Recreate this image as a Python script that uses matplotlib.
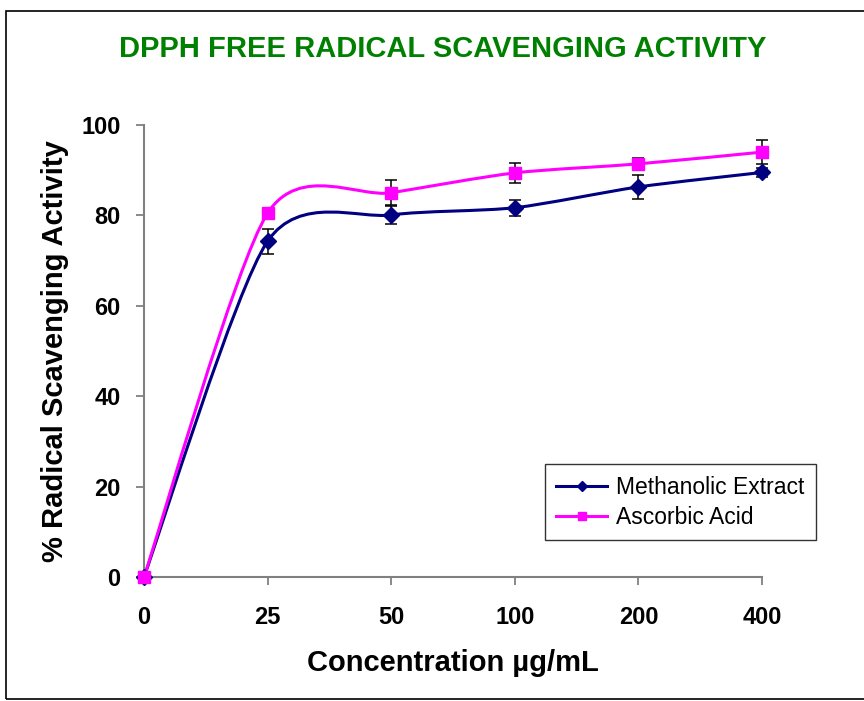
import matplotlib.pyplot as plt
import numpy as np
from matplotlib.path import Path
from matplotlib.patches import PathPatch, Rectangle

plt.rcParams['font.family'] = ['Liberation Sans', 'DejaVu Sans']

# data
concentrations = ['0', '25', '50', '100', '200', '400']
methanolic = [0.0, 74.3, 80.1, 81.7, 86.3, 89.5]
methanolic_err = [0.0, 2.8, 2.0, 1.8, 2.7, 1.0]
ascorbic = [0.0, 80.5, 85.0, 89.4, 91.4, 94.0]
ascorbic_err = [0.0, 0.8, 2.8, 2.3, 1.2, 2.6]


def smooth_path(xs, ys, k=0.13):
    # excel style smoothed line: cubic bezier through the points
    pts = np.column_stack([xs, ys]).astype(float)
    n = len(pts)
    verts = [pts[0]]
    codes = [Path.MOVETO]
    for i in range(n - 1):
        p0 = pts[max(i - 1, 0)]
        p1 = pts[i]
        p2 = pts[i + 1]
        p3 = pts[min(i + 2, n - 1)]
        c1 = p1 + (p2 - p0) * k
        c2 = p2 - (p3 - p1) * k
        verts += [c1, c2, p2]
        codes += [Path.CURVE4] * 3
    return Path(verts, codes)


fig = plt.figure(figsize=(8.64, 7.01), dpi=100)
fig.patches.append(Rectangle((6 / 864, 2 / 701), 1.0, 688 / 701, transform=fig.transFigure,
                             fill=False, edgecolor='black', linewidth=1.2))
ax = fig.add_axes([144 / 864, 1 - 577 / 701, (762 - 144) / 864, (577 - 125) / 701])

x = np.arange(len(concentrations))
series = [
    (methanolic, methanolic_err, '#000080', 'D', 8, 'Methanolic Extract'),
    (ascorbic, ascorbic_err, '#FF00FF', 's', 9, 'Ascorbic Acid'),
]
for vals, errs, color, marker, ms, label in series:
    ax.add_patch(PathPatch(smooth_path(x, vals), facecolor='none', edgecolor=color,
                           linewidth=2.2, zorder=3, clip_on=False))
    ax.errorbar(x, vals, yerr=errs, fmt='none', ecolor='black', elinewidth=1.1,
                capsize=4.3, capthick=1.1, zorder=4, clip_on=False)
    ax.plot(x, vals, linestyle='none', marker=marker, markersize=ms, color=color,
            zorder=5, clip_on=False)
    ax.plot([], [], color=color, linewidth=2.2, marker=marker, markersize=ms * 0.7, label=label)

ax.set_xlim(0, 5)
ax.set_ylim(0, 100)
ax.set_xticks(x)
ax.set_xticklabels(concentrations)
ax.set_yticks([0, 20, 40, 60, 80, 100])
for s in ['top', 'right']:
    ax.spines[s].set_visible(False)
for s in ['left', 'bottom']:
    ax.spines[s].set_color('#808080')
    ax.spines[s].set_linewidth(1.5)
ax.tick_params(axis='both', direction='out', length=6, width=1.3, color='#808080',
               labelsize=17)
ax.tick_params(axis='x', pad=15)
ax.tick_params(axis='y', pad=11)
for lab in ax.get_xticklabels() + ax.get_yticklabels():
    lab.set_fontweight('bold')

ax.set_xlabel('Concentration µg/mL', fontsize=21, fontweight='bold', labelpad=14)
ax.set_ylabel('% Radical Scavenging Activity', fontsize=21, fontweight='bold', labelpad=9)
fig.text(443 / 864, 1 - 49 / 701, 'DPPH FREE RADICAL SCAVENGING ACTIVITY', color='#008000',
         fontsize=21, fontweight='bold', ha='center', va='center')

leg = ax.legend(loc='lower left', bbox_to_anchor=((545 - 144) / 618, (577 - 540) / 452),
                fontsize=16.5, frameon=True, fancybox=False, handlelength=2.2,
                borderpad=0.5, labelspacing=0.3, handletextpad=0.4, borderaxespad=0)
leg.get_frame().set_edgecolor('black')
leg.get_frame().set_linewidth(1.0)

fig.savefig('out.png', dpi=100)
